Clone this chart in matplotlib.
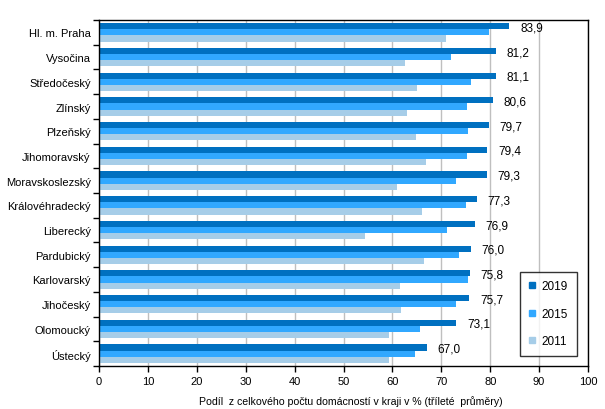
import numpy as np
import matplotlib
matplotlib.use("Agg")
import matplotlib.pyplot as plt
from matplotlib.lines import Line2D

plt.rcParams['font.family'] = ['Liberation Sans', 'DejaVu Sans']
plt.rcParams['font.size'] = 8

# kraje (shora dolů)
regions = ["Hl. m. Praha", "Vysočina", "Středočeský", "Zlínský", "Plzeňský",
           "Jihomoravský", "Moravskoslezský", "Královéhradecký", "Liberecký",
           "Pardubický", "Karlovarský", "Jihočeský", "Olomoucký", "Ústecký"]
v2019 = [83.9, 81.2, 81.1, 80.6, 79.7, 79.4, 79.3, 77.3, 76.9, 76.0, 75.8, 75.7, 73.1, 67.0]
v2015 = [79.7, 72.0, 76.1, 75.3, 75.5, 75.3, 73.0, 75.0, 71.2, 73.6, 75.5, 73.0, 65.6, 64.6]
v2011 = [71.0, 62.6, 65.0, 63.0, 64.8, 66.9, 61.0, 66.1, 54.4, 66.5, 61.6, 61.8, 59.3, 59.3]
years = ["2019", "2015", "2011"]
colors = ["#0070C0", "#31A8FF", "#A6CDE8"]

fig = plt.figure(figsize=(6.05, 4.10), dpi=100)
ax = fig.add_axes([99 / 605, 1 - 367 / 410, 489 / 605, 346 / 410])

y = np.arange(len(regions))
h = 0.25
for i, (vals, c) in enumerate(zip([v2019, v2015, v2011], colors)):
    ax.barh(y + (i - 1) * h, vals, height=h, color=c, zorder=2)

for yi, v in zip(y, v2019):
    ax.text(v + 2.2, yi - h * 0.8, f"{v:.1f}".replace(".", ","),
            va="center", ha="left", fontsize=8.5)

ax.set_xlim(0, 100)
ax.set_ylim(len(regions) - 0.5, -0.5)
ax.set_xticks(range(0, 101, 10))
ax.set_yticks(y)
ax.set_yticklabels(regions)
ax.set_yticks(np.arange(-0.5, len(regions)), minor=True)
ax.tick_params(axis='y', which='major', length=0, pad=6)
ax.tick_params(axis='y', which='minor', length=4, width=1)
ax.tick_params(axis='x', length=4, width=1)
ax.grid(axis='x', color="#BFBFBF", linewidth=1, zorder=0)
for s in ax.spines.values():
    s.set_linewidth(1)
ax.set_xlabel("Podíl  z celkového počtu domácností v kraji v % (tříleté  průměry)",
              fontsize=7.6, labelpad=5)
ax.xaxis.set_label_coords(0.515, -0.085)

# čtverečky v legendě
handles = [Line2D([], [], marker="s", linestyle="None", markersize=4.6,
                  markerfacecolor=c, markeredgecolor=c) for c in colors]
leg = ax.legend(handles, years, loc="lower right", bbox_to_anchor=(0.9775, 0.029),
                frameon=True, fancybox=False, edgecolor="black", handlelength=0.6,
                handletextpad=0.5, labelspacing=1.3, borderpad=0.75,
                borderaxespad=0, fontsize=8.5)
leg.get_frame().set_linewidth(1)

fig.savefig("out.png", dpi=100)
